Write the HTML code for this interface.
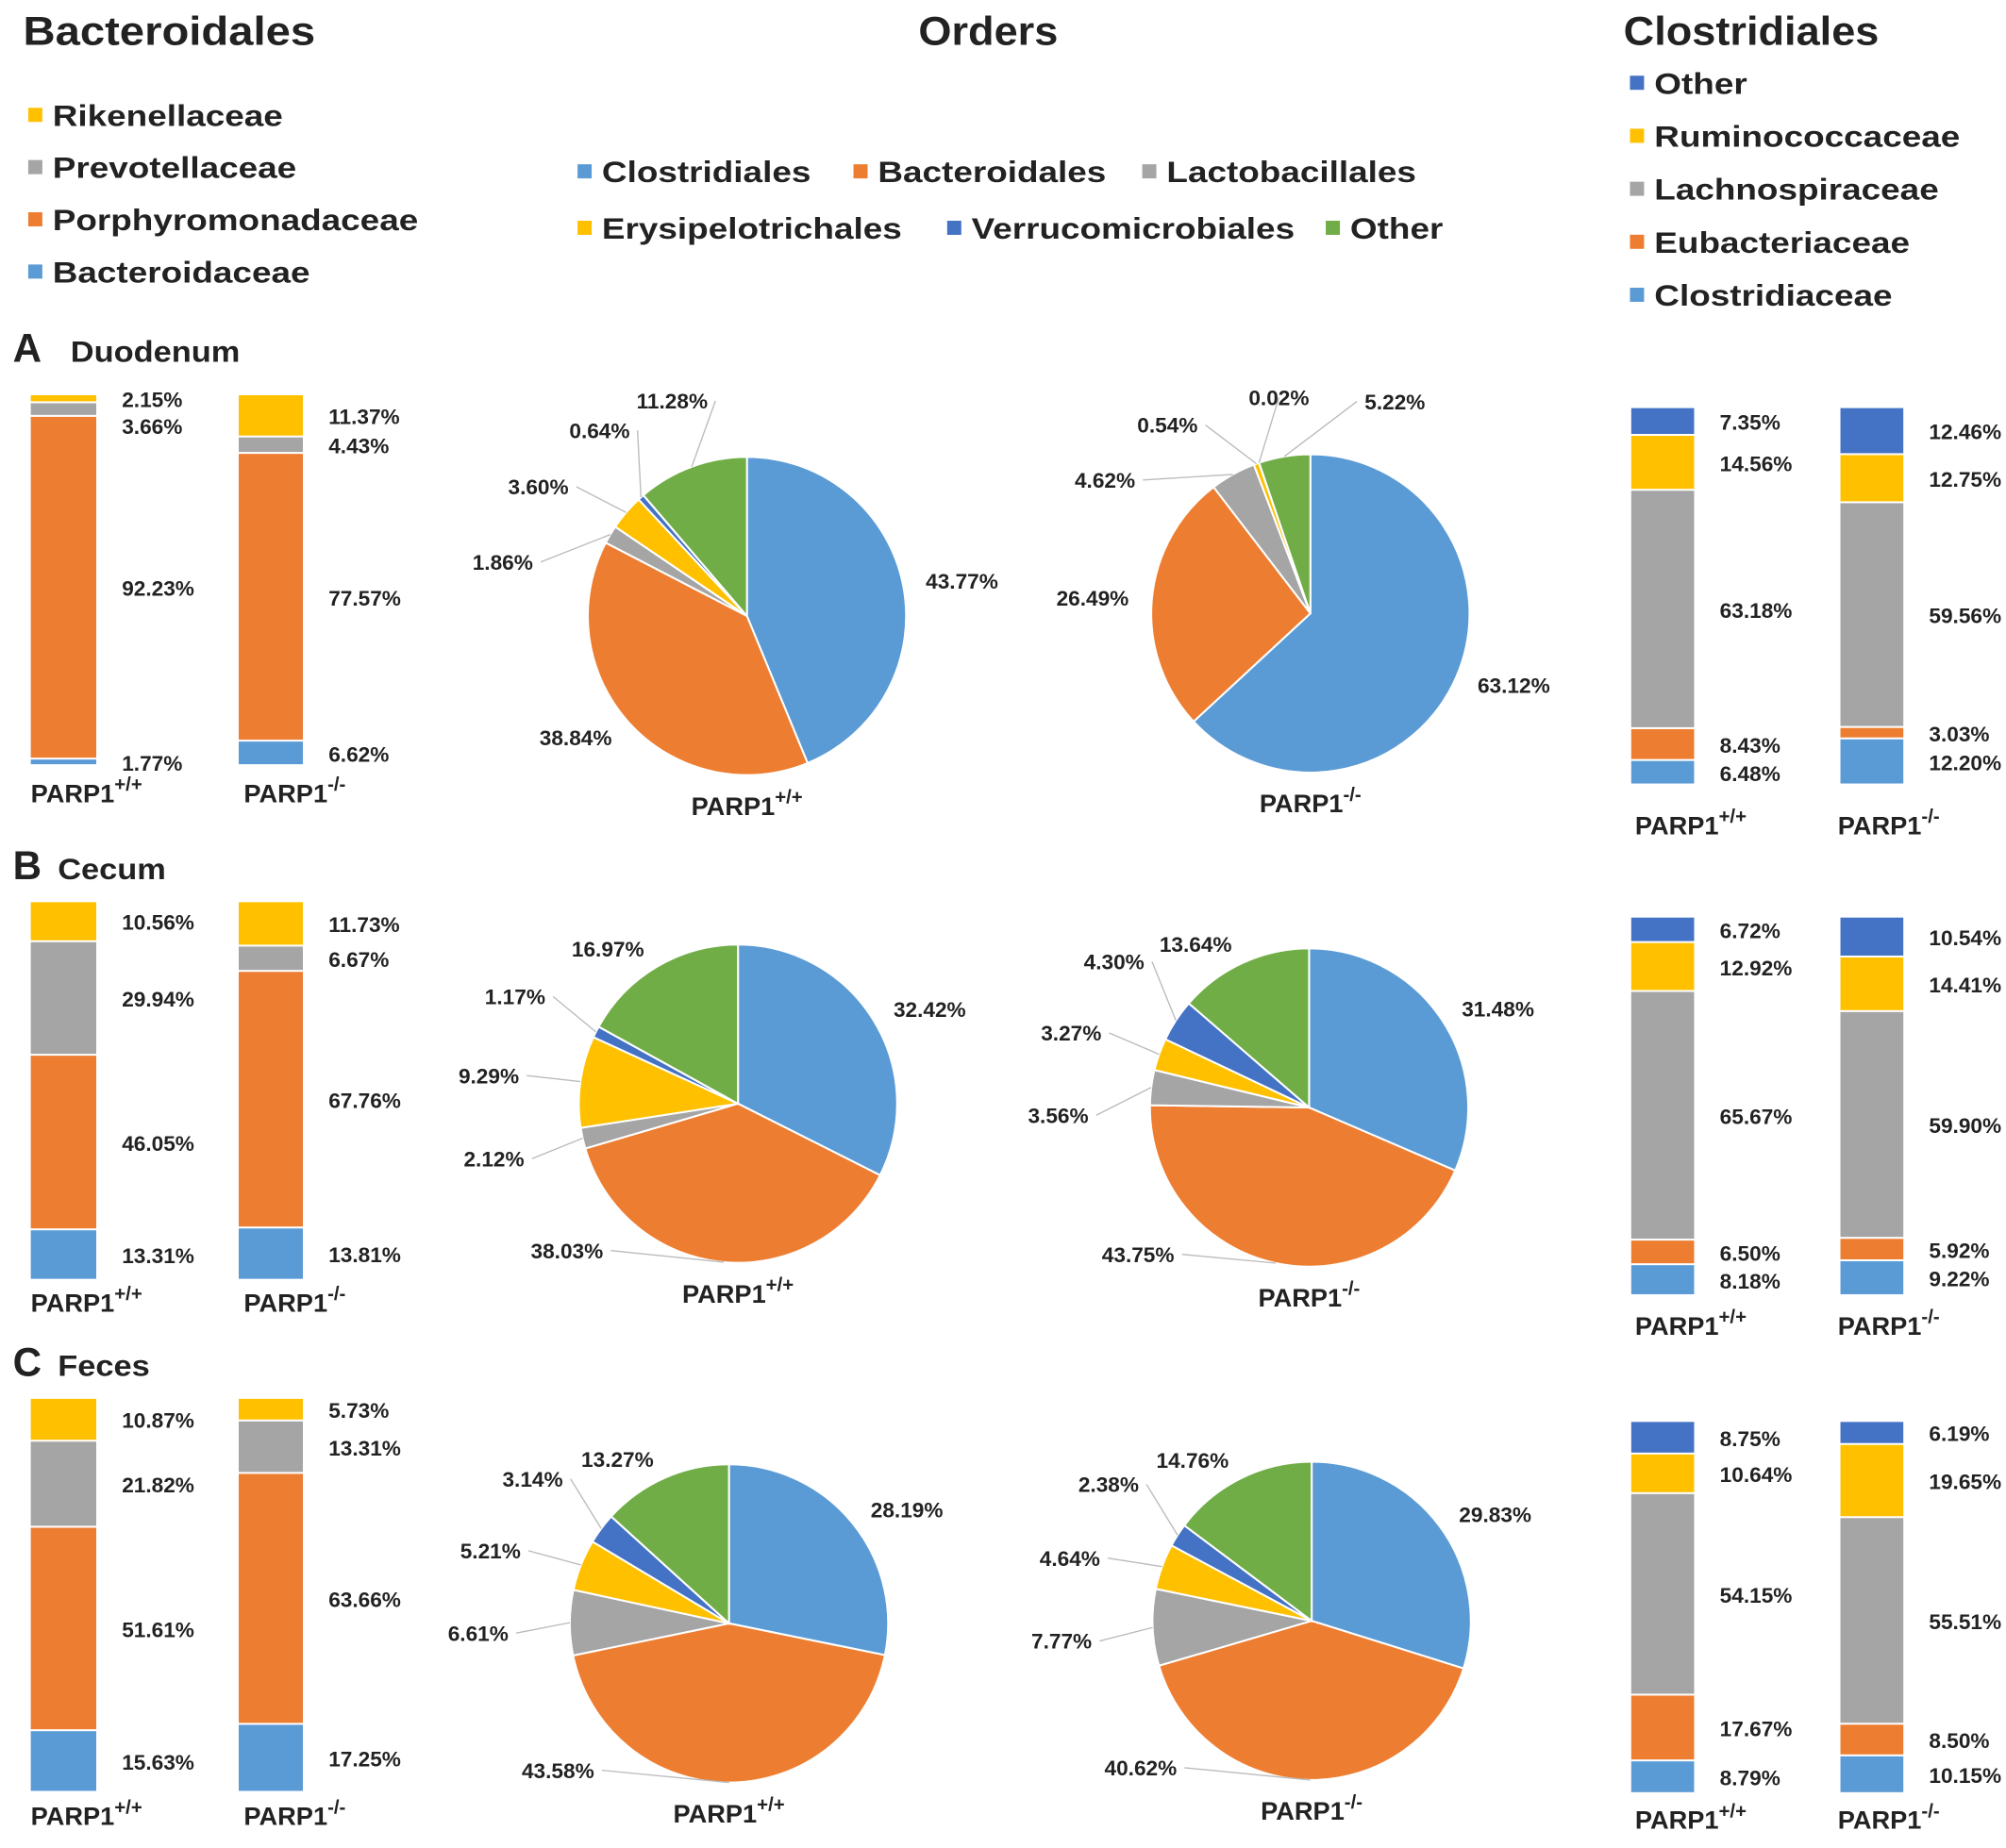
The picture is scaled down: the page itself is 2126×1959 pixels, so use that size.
<!DOCTYPE html>
<html><head><meta charset="utf-8"><style>
html,body{margin:0;padding:0;background:#fff;}
svg{display:block;font-family:"Liberation Sans",Arial,sans-serif;font-weight:bold;}
</style></head><body>
<svg id="fig" width="2126" height="1959" viewBox="0 0 1563 1440" preserveAspectRatio="none" xmlns="http://www.w3.org/2000/svg">
<text id="t1" x="18" y="35" font-size="31" fill="#222">Bacteroidales</text>
<text id="t2" x="770" y="35" font-size="31" fill="#222" text-anchor="middle">Orders</text>
<text id="t3" x="1265" y="35" font-size="31" fill="#222">Clostridiales</text>
<g id="legends"></g>
<g id="plots"></g>
</svg>
<script>
const C={blue:"#5B9BD5",orange:"#ED7D31",gray:"#A5A5A5",yellow:"#FFC000",dk:"#4472C4",green:"#70AD47"};
const bactNames=["Bacteroidaceae","Porphyromonadaceae","Prevotellaceae","Rikenellaceae"];
const bactColors=[C.blue,C.orange,C.gray,C.yellow];
const closNames=["Clostridiaceae","Eubacteriaceae","Lachnospiraceae","Ruminococcaceae","Other"];
const closColors=[C.blue,C.orange,C.gray,C.yellow,C.dk];
const orderNames=["Clostridiales","Bacteroidales","Lactobacillales","Erysipelotrichales","Verrucomicrobiales","Other"];
const orderColors=[C.blue,C.orange,C.gray,C.yellow,C.dk,C.green];
const sections=["Duodenum","Cecum","Feces"];
const sectionLetters=["A","B","C"];
const bactWT=[[1.77,92.23,3.66,2.15],[13.31,46.05,29.94,10.56],[15.63,51.61,21.82,10.87]];
const bactKO=[[6.62,77.57,4.43,11.37],[13.81,67.76,6.67,11.73],[17.25,63.66,13.31,5.73]];
const closWT=[[6.48,8.43,63.18,14.56,7.35],[8.18,6.50,65.67,12.92,6.72],[8.79,17.67,54.15,10.64,8.75]];
const closKO=[[12.20,3.03,59.56,12.75,12.46],[9.22,5.92,59.90,14.41,10.54],[10.15,8.50,55.51,19.65,6.19]];
const pieWT=[[43.77,38.84,1.86,3.60,0.64,11.28],[32.42,38.03,2.12,9.29,1.17,16.97],[28.19,43.58,6.61,5.21,3.14,13.27]];
const pieKO=[[63.12,26.49,4.62,0.54,0.02,5.22],[31.48,43.75,3.56,3.27,4.30,13.64],[29.83,40.62,7.77,4.64,2.38,14.76]];

const NS="http://www.w3.org/2000/svg";
function mk(tag,attrs,parent){const e=document.createElementNS(NS,tag);for(const k in attrs)e.setAttribute(k,attrs[k]);parent.appendChild(e);return e;}
function stretch(t,f){const L=t.getComputedTextLength();if(L>0){t.setAttribute("textLength",L*f);t.setAttribute("lengthAdjust","spacingAndGlyphs");}}
const leg=document.getElementById("legends");
const plots=document.getElementById("plots");
stretch(document.getElementById("t1"),1.12);
stretch(document.getElementById("t2"),1.07);
stretch(document.getElementById("t3"),1.07);

function legendItem(x,y,color,label,name){
  const g=mk("g",{},leg);
  
  
  mk("rect",{x:x,y:y-6,width:11,height:11,fill:color},g);
  const t=mk("text",{x:x+19,y:y+8,"font-size":23,fill:"#222"},g);t.textContent=label;
  stretch(t,1.18);
}
[3,2,1,0].forEach((i,k)=>legendItem(22,90+k*40.7,bactColors[i],bactNames[i],"bact-legend-"+bactNames[i].toLowerCase()));
[4,3,2,1,0].forEach((i,k)=>legendItem(1270,65+k*41.3,closColors[i],closNames[i],"clos-legend-"+closNames[i].toLowerCase()));
const olx=[450,665,890,450,738,1033],oly=[134,134,134,178,178,178];
orderNames.forEach((n,i)=>legendItem(olx[i],oly[i],orderColors[i],n,"order-legend-"+n.toLowerCase()));

function parpLabel(x,y,ko,anchor,name){
  const t=mk("text",{x:x,y:y,"font-size":20,fill:"#222","text-anchor":anchor||"start"},plots);
  
  
  t.appendChild(document.createTextNode("PARP1"));
  const s=mk("tspan",{dy:-9,"font-size":15},t);s.textContent=ko?"-/-":"+/+";
}
function pctText(x,y,v,anchor,g){
  const t=mk("text",{x:x,y:y,"font-size":16,fill:"#222","text-anchor":anchor},g);
  t.textContent=v.toFixed(2)+"%";
  stretch(t,1.04);
  return t;
}

function stackBar(vals,colors,x,w,top,bottom,name){
  const g=mk("g",{},plots);
  
  
  const sum=vals.reduce((a,b)=>a+b,0);
  const sc=(bottom-top)/sum;
  let y=bottom;const labs=[];
  vals.forEach((v,i)=>{
    const h=v*sc;
    const r=mk("rect",{x:x,y:y-h,width:w,height:Math.max(h-1.5,0.8),fill:colors[i]},g);
    
    
    labs.push({v:v,cy:y-h/2});
    y-=h;
  });
  const order=labs.slice().reverse();
  let prev=-1e9;
  order.forEach(l=>{let cy=Math.max(l.cy,prev+21);l.y=cy;prev=cy;});
  let lim=bottom+2;
  labs.forEach(l=>{if(l.y>lim){l.y=lim;}lim=l.y-21;});
  labs.forEach(l=>pctText(x+w+20,l.y+6,l.v,"start",g));
}

function pie(vals,cx,cy,r,name){
  const g=mk("g",{},plots);
  
  
  const sum=vals.reduce((a,b)=>a+b,0);
  let a0=0;const labs=[];
  vals.forEach((v,i)=>{
    const a1=a0+v/sum*2*Math.PI;
    const p=(a)=>[cx+r*Math.sin(a),cy-r*Math.cos(a)];
    const [x0,y0]=p(a0),[x1,y1]=p(a1);
    const large=(a1-a0)>Math.PI?1:0;
    const s=mk("path",{d:`M${cx},${cy}L${x0},${y0}A${r},${r} 0 ${large} 1 ${x1},${y1}Z`,fill:orderColors[i],stroke:"#fff","stroke-width":1.5},g);
    
    
    labs.push({v:v,a:(a0+a1)/2,small:v<12&&i>=2});
    a0=a1;
  });
  const grp=labs.filter(l=>l.small);
  if(grp.length){
    const sep=22*Math.PI/180;
    const mean=grp.reduce((s,l)=>s+l.a,0)/grp.length;
    grp.forEach((l,k)=>{l.la=mean+(k-(grp.length-1)/2)*sep;});
  }
  labs.forEach(l=>{
    const ex=cx+r*Math.sin(l.a),ey=cy-r*Math.cos(l.a);
    let la=l.la!==undefined?l.la:l.a;
    let rr=l.small?r+46:r+16;
    let lead=l.small;
    const deg=(la*180/Math.PI)%360;
    if(!l.small&&deg>150&&deg<215){la=222*Math.PI/180;rr=r+30;lead=true;}
    const lx=cx+rr*Math.sin(la),ly=cy-rr*Math.cos(la);
    const right=Math.sin(la)>0.15,left=Math.sin(la)<-0.15;
    const anchor=right?"start":(left?"end":"middle");
    if(lead){
      mk("line",{x1:ex,y1:ey,x2:lx+(left?4:(right?-4:0)),y2:ly,stroke:"#bbb","stroke-width":1},g);
    }
    pctText(lx+(right?2:(left?-2:0)),ly+6,l.v,anchor,g);
  });
}

const secY=[282,685,1072];
const lb=[{t:308,b:597,lab:625},{t:703,b:998,lab:1022},{t:1090,b:1397,lab:1422}];
const pc=[[[582,480],[1021,478]],[[575,860],[1020,863]],[[568,1265],[1022,1263]]];
const rb=[{t:318,b:612,lab:650},{t:715,b:1010,lab:1040},{t:1108,b:1398,lab:1425}];
sections.forEach((s,i)=>{
  const t=mk("text",{x:10,y:secY[i],"font-size":31,fill:"#222"},plots);
  
  
  t.textContent=sectionLetters[i];
  const t2=mk("text",{x:i==0?55:45,y:secY[i],"font-size":23,fill:"#222"},plots);
  
  
  t2.textContent=s;
  stretch(t2,1.1);
  stackBar(bactWT[i],bactColors,24,51,lb[i].t,lb[i].b,"bact-bar-wt-"+s.toLowerCase());
  stackBar(bactKO[i],bactColors,186,50,lb[i].t,lb[i].b,"bact-bar-ko-"+s.toLowerCase());
  parpLabel(24,lb[i].lab,false,"start","bact-wt-label");
  parpLabel(190,lb[i].lab,true,"start","bact-ko-label");
  pie(pieWT[i],pc[i][0][0],pc[i][0][1],124,"pie-wt-"+s.toLowerCase());
  pie(pieKO[i],pc[i][1][0],pc[i][1][1],124,"pie-ko-"+s.toLowerCase());
  parpLabel(pc[i][0][0],pc[i][0][1]+155,false,"middle","pie-wt-label");
  parpLabel(pc[i][1][0],pc[i][1][1]+155,true,"middle","pie-ko-label");
  stackBar(closWT[i],closColors,1271,49,rb[i].t,rb[i].b,"clos-bar-wt-"+s.toLowerCase());
  stackBar(closKO[i],closColors,1434,49,rb[i].t,rb[i].b,"clos-bar-ko-"+s.toLowerCase());
  parpLabel(1274,rb[i].lab,false,"start","clos-wt-label");
  parpLabel(1432,rb[i].lab,true,"start","clos-ko-label");
});
</script>
</body></html>
